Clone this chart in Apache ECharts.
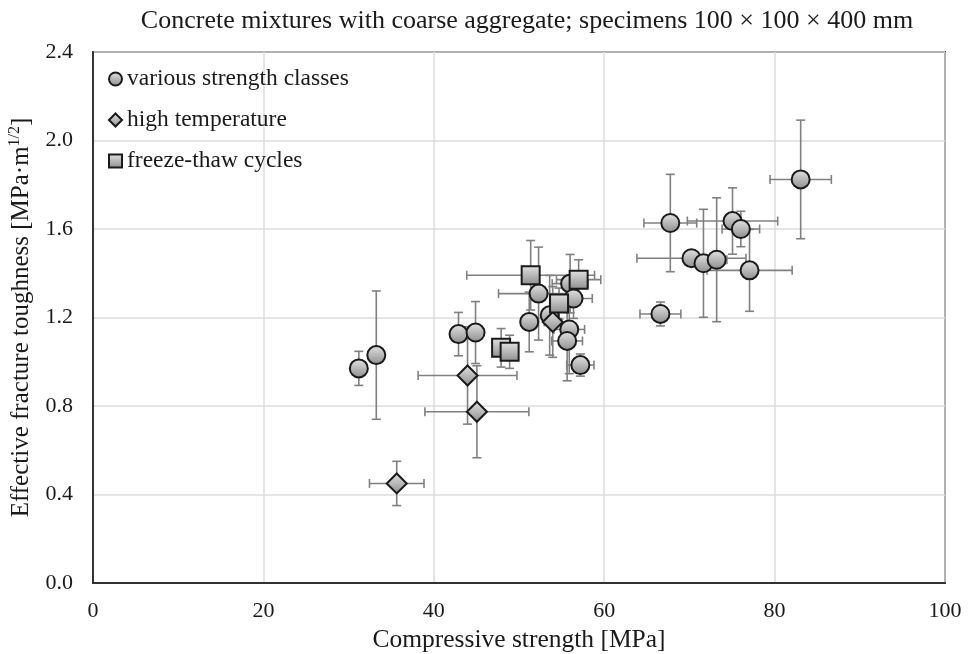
<!DOCTYPE html>
<html>
<head>
<meta charset="utf-8">
<script src="https://cdn.jsdelivr.net/npm/echarts@6/dist/echarts.min.js"></script>
<style>
html,body{margin:0;padding:0;background:#fff;}
#chart{width:971px;height:654px;}
</style>
</head>
<body>
<div id="chart"></div>
<script>
// various strength classes
var strengthX    = [31.2, 33.25, 42.9, 44.9, 51.2, 52.3, 53.6, 55.9, 55.65, 56.0, 56.4, 57.2, 66.6, 67.76, 70.24, 71.65, 73.2, 75.06, 76.04, 77.06, 83.06];
var strengthY    = [0.970, 1.030, 1.125, 1.132, 1.180, 1.308, 1.210, 1.146, 1.094, 1.353, 1.286, 0.985, 1.216, 1.627, 1.468, 1.445, 1.461, 1.636, 1.600, 1.413, 1.824];
var strengthXErr = [0.5, 0.5, 0.5, 0.5, 0.8, 4.7, 0.8, 1.8, 1.8, 2.1, 2.2, 1.6, 2.4, 3.1, 6.4, 1.0, 1.2, 5.3, 2.2, 5.0, 3.6];
var strengthYErr = [0.077, 0.29, 0.098, 0.14, 0.135, 0.21, 0.18, 0.2, 0.18, 0.132, 0.09, 0.05, 0.054, 0.22, 0.03, 0.244, 0.28, 0.15, 0.08, 0.185, 0.268];

// high temperature
var tempX    = [43.96, 45.06, 35.65, 53.96];
var tempY    = [0.938, 0.774, 0.450, 1.180];
var tempXErr = [5.8, 6.1, 3.2, 1.0];
var tempYErr = [0.22, 0.208, 0.10, 0.16];

// freeze-thaw cycles
var freezeX    = [47.9, 48.9, 51.37, 54.7, 57.0];
var freezeY    = [1.063, 1.045, 1.391, 1.263, 1.371];
var freezeXErr = [0.8, 0.8, 7.5, 0.8, 2.6];
var freezeYErr = [0.087, 0.075, 0.157, 0.07, 0.09];

var seriesNames = ['various strength classes', 'high temperature', 'freeze-thaw cycles'];

var FONT = '"Liberation Serif", "Times New Roman", serif';
var TEXT_COLOR = '#1a1a1a';
var BAR_COLOR = '#808080';
var MARK_FILL = new echarts.graphic.LinearGradient(0, 0, 0, 1, [
	{offset: 0, color: '#e4e4e4'},
	{offset: 1, color: '#8c8c8c'}
]);

function pack(xs, ys, xe, ye){
	var out = [];
	for (var i = 0; i < xs.length; i++){
		out.push([xs[i], ys[i], xe[i], ye[i]]);
	}
	return out;
}

//误差线
function renderErrorBars(params, api){
	var x = api.value(0), y = api.value(1);
	var dx = api.value(2), dy = api.value(3);
	var l = api.coord([x - dx, y]);
	var r = api.coord([x + dx, y]);
	var t = api.coord([x, y + dy]);
	var b = api.coord([x, y - dy]);
	var cap = 4.5;
	var style = {stroke: BAR_COLOR, lineWidth: 1.6};
	return {
		type: 'group',
		children: [
			{type: 'line', shape: {x1: l[0], y1: l[1], x2: r[0], y2: r[1]}, style: style},
			{type: 'line', shape: {x1: l[0], y1: l[1] - cap, x2: l[0], y2: l[1] + cap}, style: style},
			{type: 'line', shape: {x1: r[0], y1: r[1] - cap, x2: r[0], y2: r[1] + cap}, style: style},
			{type: 'line', shape: {x1: t[0], y1: t[1], x2: b[0], y2: b[1]}, style: style},
			{type: 'line', shape: {x1: t[0] - cap, y1: t[1], x2: t[0] + cap, y2: t[1]}, style: style},
			{type: 'line', shape: {x1: b[0] - cap, y1: b[1], x2: b[0] + cap, y2: b[1]}, style: style}
		]
	};
}

function errSeries(data){
	return {
		type: 'custom',
		renderItem: renderErrorBars,
		data: data,
		z: 1,
		silent: true,
		encode: {x: 0, y: 1}
	};
}

function markSeries(name, symbol, size, data){
	return {
		name: name,
		type: 'scatter',
		symbol: symbol,
		symbolSize: size,
		data: data,
		z: 3,
		itemStyle: {
			color: MARK_FILL,
			borderColor: '#1a1a1a',
			borderWidth: 2,
			opacity: 1
		}
	};
}

var strengthData = pack(strengthX, strengthY, strengthXErr, strengthYErr);
var tempData = pack(tempX, tempY, tempXErr, tempYErr);
var freezeData = pack(freezeX, freezeY, freezeXErr, freezeYErr);

var myChart = echarts.init(document.getElementById('chart'));
myChart.setOption({
	animation: false,
	textStyle: {fontFamily: FONT},
	title: {
		text: 'Concrete mixtures with coarse aggregate; specimens 100 × 100 × 400 mm',
		left: 522,
		textAlign: 'center',
		top: 3,
		textStyle: {fontFamily: FONT, fontSize: 26, fontWeight: 'normal', color: TEXT_COLOR}
	},
	legend: {
		orient: 'vertical',
		left: 103,
		top: 62,
		itemGap: 17,
		itemWidth: 13,
		itemHeight: 13,
		textStyle: {fontFamily: FONT, fontSize: 23.5, color: TEXT_COLOR, padding: [0, 0, 0, 0]},
		data: [
			{name: seriesNames[0], icon: 'circle'},
			{name: seriesNames[1], icon: 'diamond'},
			{name: seriesNames[2], icon: 'rect'}
		]
	},
	grid: {
		left: 93,
		right: 26,
		top: 52,
		bottom: 71,
		show: true,
		borderColor: '#333',
		borderWidth: 2,
		containLabel: false,
		outerBoundsMode: 'none'
	},
	xAxis: {
		type: 'value',
		min: 0,
		max: 100,
		interval: 20,
		name: 'Compressive strength [MPa]',
		nameLocation: 'middle',
		nameGap: 36,
		nameTextStyle: {fontFamily: FONT, fontSize: 25.5, color: TEXT_COLOR},
		axisLine: {show: true, lineStyle: {color: '#333', width: 2}},
		axisTick: {show: false},
		axisLabel: {fontFamily: FONT, fontSize: 22, color: TEXT_COLOR, margin: 17},
		splitLine: {show: true, lineStyle: {color: '#dcdcdc', width: 1.5}}
	},
	yAxis: {
		type: 'value',
		min: 0,
		max: 2.4,
		interval: 0.4,
		name: '{a|Effective fracture toughness [MPa·m}{s|1/2}{a|]}',
		nameLocation: 'middle',
		nameGap: 58,
		nameTextStyle: {
			rich: {
				a: {fontFamily: FONT, fontSize: 25, color: TEXT_COLOR},
				s: {fontFamily: FONT, fontSize: 16, color: TEXT_COLOR, verticalAlign: 'top', padding: [0, 0, 12, 0]}
			}
		},
		axisLine: {show: true, lineStyle: {color: '#333', width: 2}},
		axisTick: {show: false},
		axisLabel: {
			fontFamily: FONT, fontSize: 22, color: TEXT_COLOR, margin: 20,
			formatter: function(v){ return v.toFixed(1); }
		},
		splitLine: {show: true, lineStyle: {color: '#dcdcdc', width: 1.5}}
	},
	series: [
		errSeries(strengthData),
		errSeries(tempData),
		errSeries(freezeData),
		markSeries(seriesNames[0], 'circle', 18, strengthData),
		markSeries(seriesNames[1], 'diamond', 20, tempData),
		markSeries(seriesNames[2], 'rect', 18, freezeData)
	]
});
</script>
</body>
</html>
